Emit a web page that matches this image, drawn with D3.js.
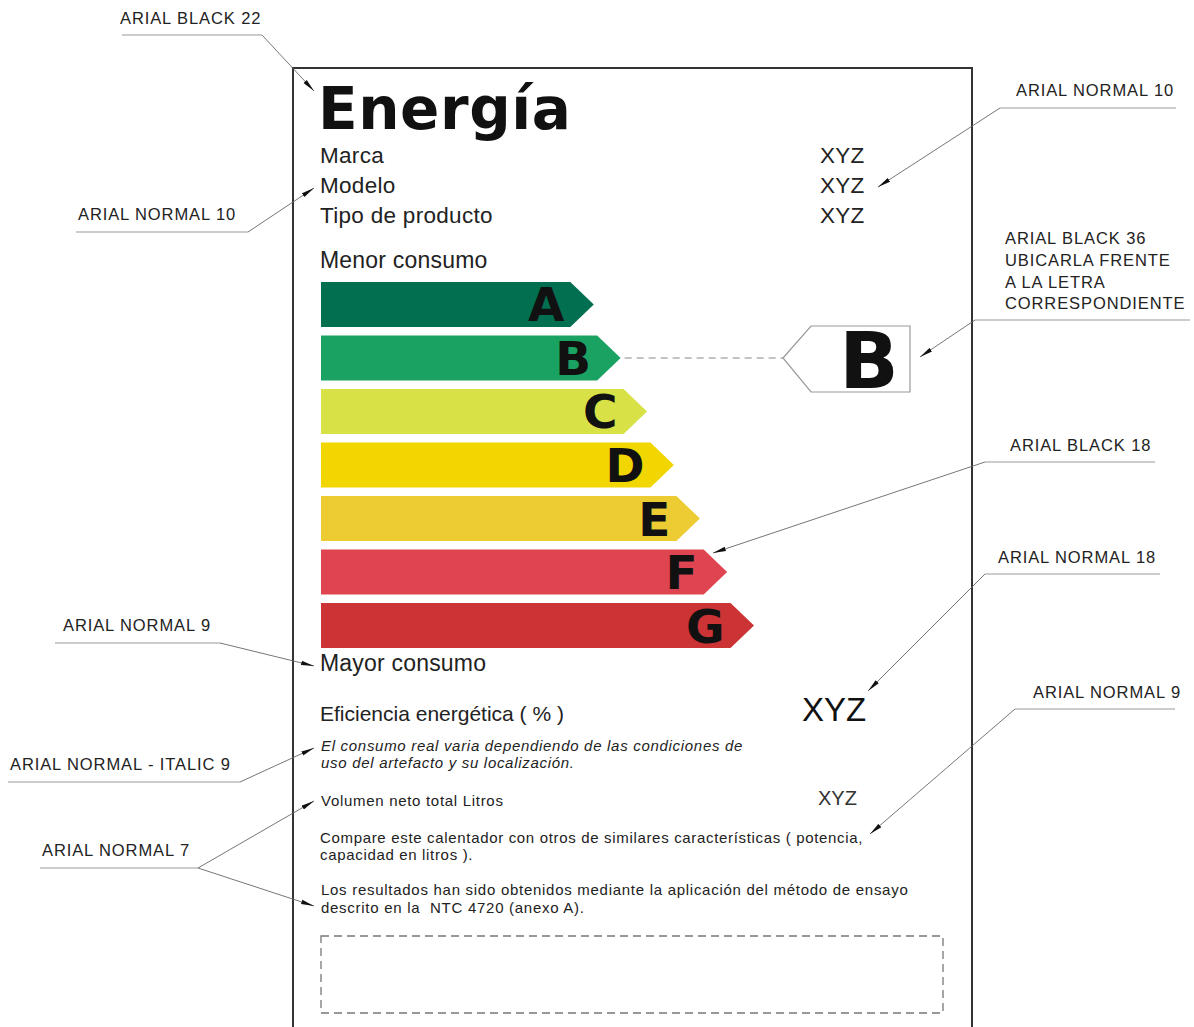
<!DOCTYPE html>
<html>
<head>
<meta charset="utf-8">
<script src="https://cdn.jsdelivr.net/npm/d3@7"></script>
<style>
  body { margin: 0; background: #fff; }
  svg { display: block; }
  text { white-space: pre; }
</style>
</head>
<body>
<div id="chart-container"></div>
<script>

// energy classes and how long each arrow is (percent of the longest)
let classes = ["A", "B", "C", "D", "E", "F", "G"];
let barValues = [63, 69.2, 75.3, 81.5, 87.5, 93.8, 100];
let barColors = ["#016f50", "#1aa263", "#d8e246", "#f2d602", "#edcb33", "#de4551", "#cb3334"];
let rating = "B";

// label texts
let headerLabels = ["Marca", "Modelo", "Tipo de producto"];
let headerValues = ["XYZ", "XYZ", "XYZ"];
let italicLines = ["El consumo real varia dependiendo de las condiciones de", "uso del artefacto y su localización."];
let compareLines = ["Compare este calentador con otros de similares características ( potencia,", "capacidad en litros )."];
let resultLines = ["Los resultados han sido obtenidos mediante la aplicación del método de ensayo", "descrito en la  NTC 4720 (anexo A)."];

// the spec notes round the label
let notes = [
    ["ARIAL BLACK 22"],
    ["ARIAL NORMAL 10"],
    ["ARIAL NORMAL 10"],
    ["ARIAL BLACK 36", "UBICARLA FRENTE", "A LA LETRA", "CORRESPONDIENTE"],
    ["ARIAL BLACK 18"],
    ["ARIAL NORMAL 18"],
    ["ARIAL NORMAL 9"],
    ["ARIAL NORMAL 9"],
    ["ARIAL NORMAL - ITALIC 9"],
    ["ARIAL NORMAL 7"]
];

let w = 1194;
let h = 1027;
let arial = "'Liberation Sans', Arial, sans-serif";
let black = "'DejaVu Sans', 'Liberation Sans', sans-serif";

const svg = d3.select("#chart-container")
    .append("svg")
    .attr("width", w)
    .attr("height", h);

svg.append("defs")
    .append("marker")
    .attr("id", "arrow")
    .attr("markerUnits", "userSpaceOnUse")
    .attr("markerWidth", 13)
    .attr("markerHeight", 6)
    .attr("refX", 13)
    .attr("refY", 3)
    .attr("orient", "auto")
    .append("path")
    .attr("d", "M0,0.8 L13,3 L0,5.2 Z")
    .attr("fill", "#111");

// label frame
svg.append("path")
    .attr("d", "M293,1030 L293,68 L972,68 L972,1030")
    .attr("fill", "none")
    .attr("stroke", "#333")
    .attr("stroke-width", 2);

svg.append("text")
    .attr("x", 318)
    .attr("y", 129)
    .attr("font-family", black)
    .attr("font-weight", "bold")
    .attr("font-size", 58)
    .attr("letter-spacing", 0.6)
    .attr("fill", "#111")
    .text("Energía");

headerLabels.forEach((t, i) => {
    svg.append("text")
        .attr("x", 320)
        .attr("y", 163 + i * 30)
        .attr("font-family", arial)
        .attr("font-size", 22.5)
        .attr("letter-spacing", 0.3)
        .attr("fill", "#222")
        .text(t);
    svg.append("text")
        .attr("x", 820)
        .attr("y", 163 + i * 30)
        .attr("font-family", arial)
        .attr("font-size", 22.5)
        .attr("letter-spacing", 0.2)
        .attr("fill", "#222")
        .text(headerValues[i]);
});

svg.append("text")
    .attr("x", 320)
    .attr("y", 268)
    .attr("font-family", arial)
    .attr("font-size", 23)
    .attr("letter-spacing", 0.2)
    .attr("fill", "#222")
    .text("Menor consumo");

// arrows
let x0 = 321;
let xScale = d3.scaleLinear()
    .domain([0, 100])
    .range([0, 433]);

let yScale = d3.scaleBand()
    .domain(classes)
    .range([282, 648])
    .paddingInner(0.16)
    .paddingOuter(0);

let bh = yScale.bandwidth();
let tip = bh / 2 + 1;

let bars = svg.selectAll(".bar")
    .data(classes)
    .enter()
    .append("g")
    .attr("class", "bar");

bars.append("path")
    .attr("d", (d, i) => {
        let y = yScale(d);
        let end = x0 + xScale(barValues[i]);
        return "M" + x0 + "," + y + " L" + (end - tip) + "," + y + " L" + end + "," + (y + bh / 2) +
            " L" + (end - tip) + "," + (y + bh) + " L" + x0 + "," + (y + bh) + " Z";
    })
    .attr("fill", (d, i) => barColors[i]);

bars.append("text")
    .attr("x", (d, i) => x0 + xScale(barValues[i]) - tip - 6)
    .attr("y", d => yScale(d) + bh / 2 + 17)
    .attr("text-anchor", "end")
    .attr("font-family", black)
    .attr("font-weight", "bold")
    .attr("font-size", 47)
    .attr("fill", "#111")
    .text(d => d);

// rating pointer
let ri = classes.indexOf(rating);
let ry = yScale(rating) + bh / 2;
let rTip = x0 + xScale(barValues[ri]);

svg.append("line")
    .attr("x1", rTip + 4)
    .attr("x2", 783)
    .attr("y1", ry)
    .attr("y2", ry)
    .attr("stroke", "#888")
    .attr("stroke-width", 1.2)
    .attr("stroke-dasharray", "7,5");

svg.append("path")
    .attr("d", "M783," + ry + " L811," + (ry - 32) + " L910," + (ry - 32) + " L910," + (ry + 34) + " L811," + (ry + 34) + " Z")
    .attr("fill", "#fff")
    .attr("stroke", "#999")
    .attr("stroke-width", 1.2);

svg.append("text")
    .attr("x", 869)
    .attr("y", ry + 30)
    .attr("text-anchor", "middle")
    .attr("font-family", black)
    .attr("font-weight", "bold")
    .attr("font-size", 78)
    .attr("fill", "#111")
    .text(rating);

svg.append("text")
    .attr("x", 320)
    .attr("y", 671)
    .attr("font-family", arial)
    .attr("font-size", 23)
    .attr("letter-spacing", 0.2)
    .attr("fill", "#222")
    .text("Mayor consumo");

svg.append("text")
    .attr("x", 320)
    .attr("y", 721)
    .attr("font-family", arial)
    .attr("font-size", 21)
    .attr("fill", "#222")
    .text("Eficiencia energética ( % )");

svg.append("text")
    .attr("x", 802)
    .attr("y", 721)
    .attr("font-family", arial)
    .attr("font-size", 33)
    .attr("fill", "#111")
    .text("XYZ");

italicLines.forEach((t, i) => {
    svg.append("text")
        .attr("x", 321)
        .attr("y", 751 + i * 17)
        .attr("font-family", arial)
        .attr("font-style", "italic")
        .attr("font-size", 15)
        .attr("letter-spacing", 0.7)
        .attr("fill", "#222")
        .text(t);
});

svg.append("text")
    .attr("x", 321)
    .attr("y", 806)
    .attr("font-family", arial)
    .attr("font-size", 15)
    .attr("letter-spacing", 0.7)
    .attr("fill", "#222")
    .text("Volumen neto total Litros");

svg.append("text")
    .attr("x", 818)
    .attr("y", 805)
    .attr("font-family", arial)
    .attr("font-size", 20)
    .attr("fill", "#333")
    .text("XYZ");

compareLines.forEach((t, i) => {
    svg.append("text")
        .attr("x", 320)
        .attr("y", 843 + i * 17)
        .attr("font-family", arial)
        .attr("font-size", 15)
        .attr("letter-spacing", 0.67)
        .attr("fill", "#222")
        .text(t);
});

resultLines.forEach((t, i) => {
    svg.append("text")
        .attr("x", 321)
        .attr("y", 895 + i * 18)
        .attr("font-family", arial)
        .attr("font-size", 15)
        .attr("letter-spacing", 0.72)
        .attr("fill", "#222")
        .text(t);
});

svg.append("rect")
    .attr("x", 321)
    .attr("y", 936)
    .attr("width", 622)
    .attr("height", 77)
    .attr("fill", "none")
    .attr("stroke", "#777")
    .attr("stroke-width", 1.3)
    .attr("stroke-dasharray", "8,5");

// note layout: text x, first baseline, underline [x1,x2,y], leader targets (from underline end)
let noteLayout = [
    { x: 120, y: 24, ul: [122, 262, 35], from: [262, 35], to: [[314, 91]] },
    { x: 78, y: 220, ul: [76, 248, 232], from: [248, 232], to: [[314, 188]] },
    { x: 1016, y: 96, ul: [1000, 1176, 108], from: [1000, 108], to: [[878, 187]] },
    { x: 1005, y: 244, ul: [975, 1190, 320], from: [975, 320], to: [[920, 357]], lh: 21.8 },
    { x: 1010, y: 451, ul: [985, 1155, 462], from: [985, 462], to: [[713, 553]] },
    { x: 998, y: 563, ul: [985, 1160, 574], from: [985, 574], to: [[868, 691]] },
    { x: 1033, y: 698, ul: [1015, 1175, 709], from: [1015, 709], to: [[870, 834]] },
    { x: 63, y: 631, ul: [55, 220, 643], from: [220, 643], to: [[314, 666]] },
    { x: 10, y: 770, ul: [8, 240, 782], from: [240, 782], to: [[314, 748]] },
    { x: 42, y: 856, ul: [40, 198, 868], from: [198, 868], to: [[314, 801], [314, 906]] }
];

notes.forEach((lines, i) => {
    let n = noteLayout[i];
    lines.forEach((t, j) => {
        svg.append("text")
            .attr("x", n.x)
            .attr("y", n.y + j * (n.lh || 0))
            .attr("font-family", arial)
            .attr("font-size", 16.5)
            .attr("letter-spacing", 0.9)
            .attr("fill", "#222")
            .text(t);
    });
    svg.append("line")
        .attr("x1", n.ul[0])
        .attr("x2", n.ul[1])
        .attr("y1", n.ul[2])
        .attr("y2", n.ul[2])
        .attr("stroke", "#999")
        .attr("stroke-width", 1);
    n.to.forEach(p => {
        svg.append("line")
            .attr("x1", n.from[0])
            .attr("y1", n.from[1])
            .attr("x2", p[0])
            .attr("y2", p[1])
            .attr("stroke", "#666")
            .attr("stroke-width", 0.9)
            .attr("marker-end", "url(#arrow)");
    });
});

</script>
</body>
</html>
